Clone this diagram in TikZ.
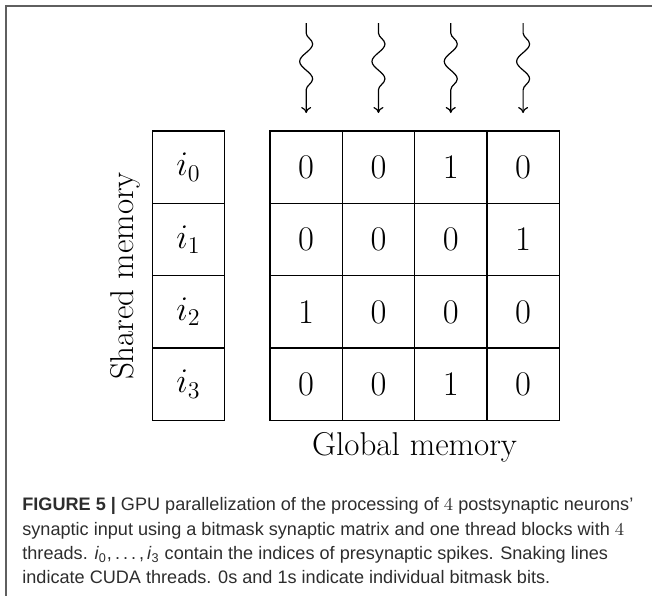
\documentclass[tikz,border=0pt]{standalone}
\usepackage{fontspec}
\setsansfont{Liberation Sans}
\usetikzlibrary{decorations.pathmorphing,arrows.meta}
\definecolor{framegray}{RGB}{95,95,95}
\definecolor{captext}{RGB}{45,45,45}
\begin{document}
\begin{tikzpicture}[x=0.5pt,y=-0.5pt,
  cellbox/.style={draw, line width=0.65pt, minimum width=36.15pt, minimum height=36.15pt,
    inner sep=0pt, font=\fontsize{16.5}{20}\selectfont},
  bigtext/.style={font=\fontsize{16.5}{20}\selectfont, inner sep=0pt},
  thread/.style={line width=0.6pt, decorate,
    decoration={snake, amplitude=3.25pt, segment length=17.5pt, pre length=5pt, post length=5pt},
    -{To[length=3pt,width=5pt]}},
  captline/.style={anchor=base west, inner sep=0pt, text=captext,
    font=\sffamily\fontsize{9.05}{12.25}\selectfont},
  framestyle/.style={draw=framegray, line width=0.75pt}]
\useasboundingbox (0,0) rectangle (652,596);
% frame
\coordinate (fr1) at (652,6);
\coordinate (fr2) at (6,6);
\coordinate (fr3) at (6,596);
\draw[framestyle] (fr1) -- (fr2) -- (fr3);
% shared memory column
\foreach \r/\y in {0/167.15,1/239.5,2/311.85,3/384.2}{
  \node[cellbox] (sh\r) at (188.5,\y) {$i_{\r}$};
}
% global memory matrix
\foreach \r/\y/\va/\vb/\vc/\vd in {0/167.15/0/0/1/0,1/239.5/0/0/0/1,2/311.85/1/0/0/0,3/384.2/0/0/1/0}{
  \node[cellbox] (g\r0) at (306.15,\y) {$\va$};
  \node[cellbox] (g\r1) at (378.45,\y) {$\vb$};
  \node[cellbox] (g\r2) at (450.75,\y) {$\vc$};
  \node[cellbox] (g\r3) at (523.1,\y) {$\vd$};
}
% threads
\foreach \c/\x in {0/306.15,1/378.45,2/450.75,3/523.1}{
  \coordinate (ts\c) at (\x,23);
  \coordinate (te\c) at (\x,113);
  \draw[thread] (ts\c) -- (te\c);
}
% labels
\node[bigtext, rotate=90, anchor=base] (shlabel) at (133.5,276) {Shared memory};
\node[bigtext, anchor=base] (gllabel) at (414.6,455) {Global memory};
% caption
\node[captline] (cap1) at (22,510) {{\bfseries FIGURE 5 |} GPU parallelization of the processing of {\rmfamily 4} postsynaptic neurons’};
\node[captline] (cap2) at (22,535.5) {synaptic input using a bitmask synaptic matrix and one thread blocks with {\rmfamily 4}};
\node[captline] (cap3) at (22,559.5) {threads. \textit{i}\textsubscript{0},\,.\,.\,.\,,\,\textit{i}\textsubscript{3} contain the indices of presynaptic spikes. Snaking lines};
\node[captline] (cap4) at (22,583.5) {indicate CUDA threads. 0s and 1s indicate individual bitmask bits.};
\end{tikzpicture}
\end{document}
